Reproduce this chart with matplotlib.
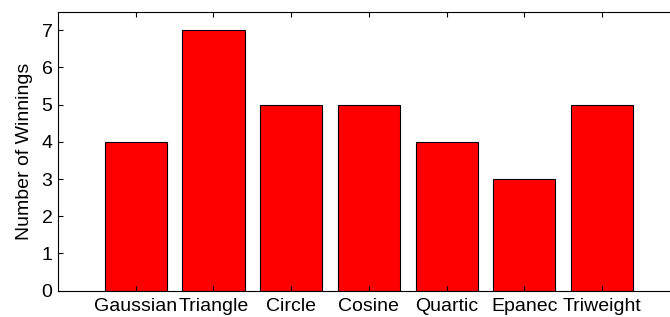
import matplotlib
matplotlib.use('Agg')
import matplotlib.pyplot as plt

kernels = ['Gaussian', 'Triangle', 'Circle', 'Cosine', 'Quartic', 'Epanec', 'Triweight']
winnings = [4, 7, 5, 5, 4, 3, 5]
positions = list(range(1, len(kernels) + 1))

plt.rcParams['font.family'] = ['Liberation Sans', 'DejaVu Sans']

fig = plt.figure(figsize=(6.7, 3.17), dpi=100)
# axes runs past the right edge of the figure, like the cropped original
ax = fig.add_axes([0.0866, 0.083, 0.928, 0.8807])

ax.bar(positions, winnings, width=0.8, color='#ff0000', edgecolor='black', linewidth=0.8)

ax.set_xlim(0, 8)
ax.set_ylim(0, 7.5)
ax.set_xticks(positions)
ax.set_xticklabels(kernels, fontsize=14)
ax.set_yticks(range(0, 8))
ax.tick_params(axis='y', labelsize=14, pad=4)
ax.tick_params(direction='in', top=True, right=True, length=3.6, width=0.8)
ax.tick_params(axis='x', pad=5)
ax.set_ylabel('Number of Winnings', fontsize=14, labelpad=6)
for s in ax.spines.values():
    s.set_linewidth(0.8)

fig.savefig('out.png', dpi=100)
